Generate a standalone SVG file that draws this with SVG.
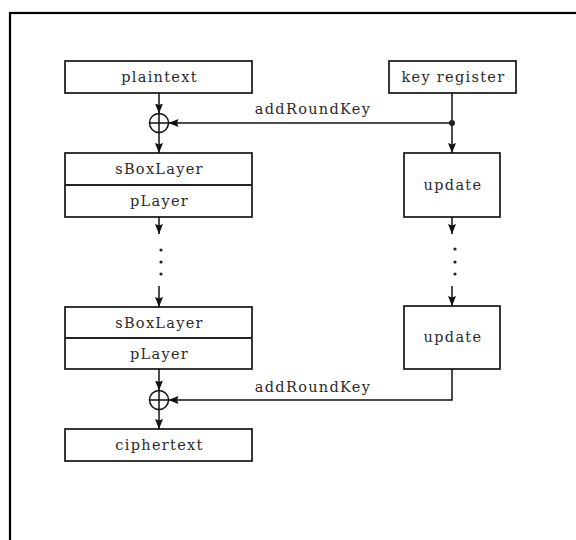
<svg xmlns="http://www.w3.org/2000/svg" width="576" height="540" viewBox="0 0 576 540">
<defs>
<marker id="arr" viewBox="0 0 10 8" refX="10" refY="4" markerWidth="10" markerHeight="8" markerUnits="userSpaceOnUse" orient="auto">
<path d="M0,0 L10,4 L0,8 L1.5,4 Z" fill="#111"/>
</marker>
</defs>
<style>
.box{fill:#fff;stroke:#222;stroke-width:1.8}
.ln{fill:none;stroke:#111;stroke-width:1.5}
.t{font-family:"DejaVu Serif","Liberation Serif",serif;font-size:14.5px;letter-spacing:1.3px;fill:#2a2a2a;text-anchor:middle}
.dot{fill:#222}
</style>
<rect x="10" y="13" width="600" height="600" fill="none" stroke="#000" stroke-width="2.2"/>
<g id="plaintext"><rect class="box" x="65" y="61" width="187" height="32"/><text class="t" x="159.5" y="82">plaintext</text></g>
<g id="keyregister"><rect class="box" x="389" y="61" width="127" height="32"/><text class="t" x="453.5" y="82">key register</text></g>
<g id="xor1"><circle class="ln" cx="159" cy="123" r="9.5"/><path class="ln" d="M149.5,123H168.5M159,113.5V132.5"/></g>
<g id="round1"><rect class="box" x="65" y="153" width="187" height="64"/><line class="box" x1="65" y1="185" x2="252" y2="185" style="stroke-width:2.2"/><text class="t" x="159.5" y="174">sBoxLayer</text><text class="t" x="159.5" y="206">pLayer</text></g>
<g id="update1"><rect class="box" x="404" y="153" width="96" height="64"/><text class="t" x="453" y="190">update</text></g>
<g id="round2"><rect class="box" x="65" y="307" width="187" height="62"/><line class="box" x1="65" y1="338" x2="252" y2="338"/><text class="t" x="159.5" y="328">sBoxLayer</text><text class="t" x="159.5" y="359">pLayer</text></g>
<g id="update2"><rect class="box" x="404" y="306" width="96" height="63"/><text class="t" x="453" y="342">update</text></g>
<g id="xor2"><circle class="ln" cx="159" cy="400" r="9.5"/><path class="ln" d="M149.5,400H168.5M159,390.5V409.5"/></g>
<g id="ciphertext"><rect class="box" x="65" y="429" width="187" height="32"/><text class="t" x="159.5" y="450">ciphertext</text></g>
<g id="connectors">
<line class="ln" x1="159" y1="93" x2="159" y2="113.5" marker-end="url(#arr)"/>
<line class="ln" x1="159" y1="132.5" x2="159" y2="153" marker-end="url(#arr)"/>
<line class="ln" x1="452" y1="93" x2="452" y2="153" marker-end="url(#arr)"/>
<line class="ln" x1="452" y1="123" x2="168.5" y2="123" marker-end="url(#arr)"/>
<circle class="dot" cx="452" cy="123" r="3"/>
<text class="t" x="313" y="114">addRoundKey</text>
<line class="ln" x1="159" y1="217" x2="159" y2="234" marker-end="url(#arr)"/>
<circle class="dot" cx="161" cy="250" r="1.6"/><circle class="dot" cx="161" cy="262" r="1.6"/><circle class="dot" cx="161" cy="274" r="1.6"/>
<line class="ln" x1="159" y1="286" x2="159" y2="307" marker-end="url(#arr)"/>
<line class="ln" x1="452" y1="217" x2="452" y2="234" marker-end="url(#arr)"/>
<circle class="dot" cx="455" cy="249" r="1.6"/><circle class="dot" cx="455" cy="262" r="1.6"/><circle class="dot" cx="455" cy="274" r="1.6"/>
<line class="ln" x1="452" y1="286" x2="452" y2="306" marker-end="url(#arr)"/>
<line class="ln" x1="159" y1="369" x2="159" y2="390.5" marker-end="url(#arr)"/>
<line class="ln" x1="159" y1="409.5" x2="159" y2="429" marker-end="url(#arr)"/>
<path class="ln" d="M452,369V400H168.5" marker-end="url(#arr)"/>
<text class="t" x="313" y="392">addRoundKey</text>
</g>
</svg>
